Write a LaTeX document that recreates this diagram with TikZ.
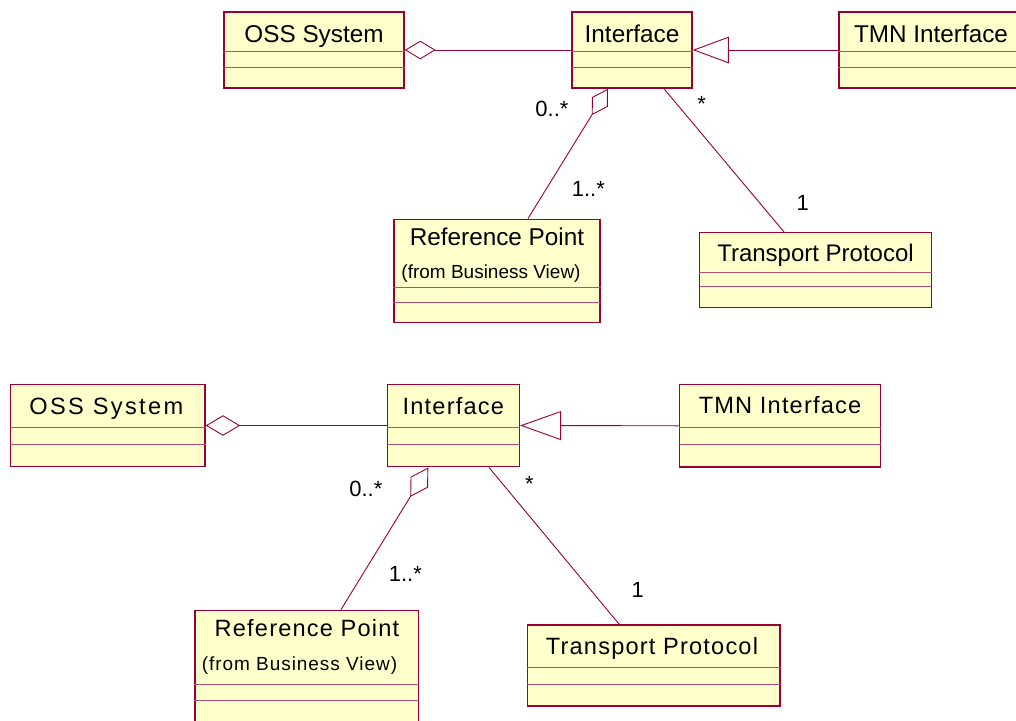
\documentclass[tikz,border=0pt]{standalone}
\usepackage{fontspec}
\setmainfont{Liberation Sans}
\newfontfamily\spacedfont[LetterSpace=5]{Liberation Sans}
\newfontfamily\widefont[LetterSpace=10]{Liberation Sans}
\usetikzlibrary{arrows.meta}
\definecolor{umlred}{RGB}{153,0,51}
\definecolor{umlyellow}{RGB}{255,255,204}

\begin{document}
\begin{tikzpicture}
      [x = 1pt, y = -1pt,
      classbox/.style= {
         draw = umlred,
         fill = umlyellow,
         line width = 1.5pt,
         rectangle,
         inner sep = 0pt
      },
      divider/.style= {draw = umlred!70, line width = 1pt},
      link/.style= {draw = umlred, line width = 0.9pt},
      aggr/.style= {link, -{Diamond[open, length = 31pt, width = 18.5pt]}},
      aggrbig/.style= {link, -{Diamond[open, length = 34.5pt, width = 20.5pt]}},
      inherit/.style= {link, -{Triangle[open, length = 36pt, width = 26.5pt]}},
      inheritbig/.style= {link, -{Triangle[open, length = 41pt, width = 29pt]}},
      clsname/.style= {anchor = base, inner sep = 0pt, font = \fontsize{24.3}{29}\selectfont},
      clsnote/.style= {anchor = base, inner sep = 0pt, font = \fontsize{19}{23}\selectfont},
      mult/.style= {anchor = base, inner sep = 0pt, font = \fontsize{22}{26}\selectfont},
      spaced/.style= {font = \spacedfont\fontsize{23.6}{28}\selectfont},
      spacednote/.style= {font = \spacedfont\fontsize{19}{23}\selectfont}]
      \useasboundingbox (0, 0) rectangle (1016, 720);
      \fill[white] (0, 0) rectangle (1016, 720);

      % upper diagram
      \node[classbox, minimum width = 180, minimum height = 76] (oss) at (314, 50) {};
      \node[classbox, minimum width = 120, minimum height = 76] (ifc) at (632, 50) {};
      \node[classbox, minimum width = 184, minimum height = 76] (tmn) at (931, 50) {};
      \node[classbox, minimum width = 206, minimum height = 103.4] (ref) at (497, 271) {};
      \node[classbox, minimum width = 232.4, minimum height = 74.6] (tp) at (815.5, 270) {};

      \draw[divider] (oss.west |- 0, 51) -- (oss.east |- 0, 51);
      \draw[divider] (oss.west |- 0, 67) -- (oss.east |- 0, 67);
      \draw[divider] (ifc.west |- 0, 51) -- (ifc.east |- 0, 51);
      \draw[divider] (ifc.west |- 0, 67) -- (ifc.east |- 0, 67);
      \draw[divider] (tmn.west |- 0, 51) -- (tmn.east |- 0, 51);
      \draw[divider] (tmn.west |- 0, 67) -- (tmn.east |- 0, 67);
      \draw[divider] (ref.west |- 0, 287.3) -- (ref.east |- 0, 287.3);
      \draw[divider] (ref.west |- 0, 302) -- (ref.east |- 0, 302);
      \draw[divider] (tp.west |- 0, 272.3) -- (tp.east |- 0, 272.3);
      \draw[divider] (tp.west |- 0, 286.7) -- (tp.east |- 0, 286.7);

      \node[clsname] (ossname) at (oss |- 0, 42.3) {OSS System};
      \node[clsname] (ifcname) at (ifc |- 0, 42.3) {Interface};
      \node[clsname] (tmnname) at (tmn |- 0, 42.8) {TMN Interface};
      \node[clsname] (refname) at (ref |- 0, 245.7) {Reference Point};
      \node[clsnote] (refnote) at (491, 278.3) {(from Business View)};
      \node[clsname, font = \fontsize{24}{29}\selectfont] (tpname) at (tp |- 0, 261.7) {Transport Protocol};

      \draw[aggr] (ifc.west) -- (oss.east);
      \draw[inherit] (tmn.west) -- (ifc.east);
      \draw[aggr] ([xshift = 31]ref.north) -- ([xshift = -24]ifc.south);
      \draw[link] ([xshift = 32]ifc.south) -- ([xshift = -31.5]tp.north);

      \node[mult] (m1) at (552, 116.7) {0..*};
      \node[mult] (m2) at (588.3, 196) {1..*};
      \node[mult] (m3) at (701.7, 111) {*};
      \node[mult] (m4) at (802.7, 210.7) {1};

      % lower diagram
      \node[classbox, minimum width = 194.3, minimum height = 82.4] (oss2) at (107.8, 425.5) {};
      \node[classbox, minimum width = 132, minimum height = 82.4] (ifc2) at (453.3, 425.5) {};
      \node[classbox, minimum width = 201.4, minimum height = 82.4] (tmn2) at (780, 425.8) {};
      \node[classbox, minimum width = 223.7, minimum height = 111.7] (ref2) at (306.8, 666.5) {};
      \node[classbox, minimum width = 252.7, minimum height = 81] (tp2) at (653.6, 665.5) {};

      \draw[divider] (oss2.west |- 0, 427.7) -- (oss2.east |- 0, 427.7);
      \draw[divider] (oss2.west |- 0, 444.3) -- (oss2.east |- 0, 444.3);
      \draw[divider] (ifc2.west |- 0, 427.7) -- (ifc2.east |- 0, 427.7);
      \draw[divider] (ifc2.west |- 0, 444.3) -- (ifc2.east |- 0, 444.3);
      \draw[divider] (tmn2.west |- 0, 427.7) -- (tmn2.east |- 0, 427.7);
      \draw[divider] (tmn2.west |- 0, 444.3) -- (tmn2.east |- 0, 444.3);
      \draw[divider] (ref2.west |- 0, 684.3) -- (ref2.east |- 0, 684.3);
      \draw[divider] (ref2.west |- 0, 700) -- (ref2.east |- 0, 700);
      \draw[divider] (tp2.west |- 0, 667.3) -- (tp2.east |- 0, 667.3);
      \draw[divider] (tp2.west |- 0, 684) -- (tp2.east |- 0, 684);

      \node[clsname, font = \widefont\fontsize{23.6}{28}\selectfont] (oss2name) at (106.3, 414.3) {OSS System};
      \node[clsname, spaced] (ifc2name) at (ifc2 |- 0, 414) {Interface};
      \node[clsname, spaced] (tmn2name) at (tmn2 |- 0, 413.3) {TMN Interface};
      \node[clsname, spaced] (ref2name) at (307, 636.7) {Reference Point};
      \node[clsnote, spacednote] (ref2note) at (299.5, 670.7) {(from Business View)};
      \node[clsname, spaced] (tp2name) at (652, 654) {Transport Protocol};

      \draw[aggrbig] (ifc2.west) -- (oss2.east);
      \draw[inheritbig] (tmn2.west) -- (ifc2.east);
      \draw[aggrbig] ([xshift = 34]ref2.north) -- ([xshift = -25]ifc2.south);
      \draw[link] ([xshift = 35.7]ifc2.south) -- ([xshift = -34.4]tp2.north);

      \node[mult] (n1) at (365.8, 496) {0..*};
      \node[mult] (n2) at (405.3, 581.7) {1..*};
      \node[mult] (n3) at (529.3, 491) {*};
      \node[mult] (n4) at (637.7, 597.3) {1};

   \end{tikzpicture}
\end{document}
